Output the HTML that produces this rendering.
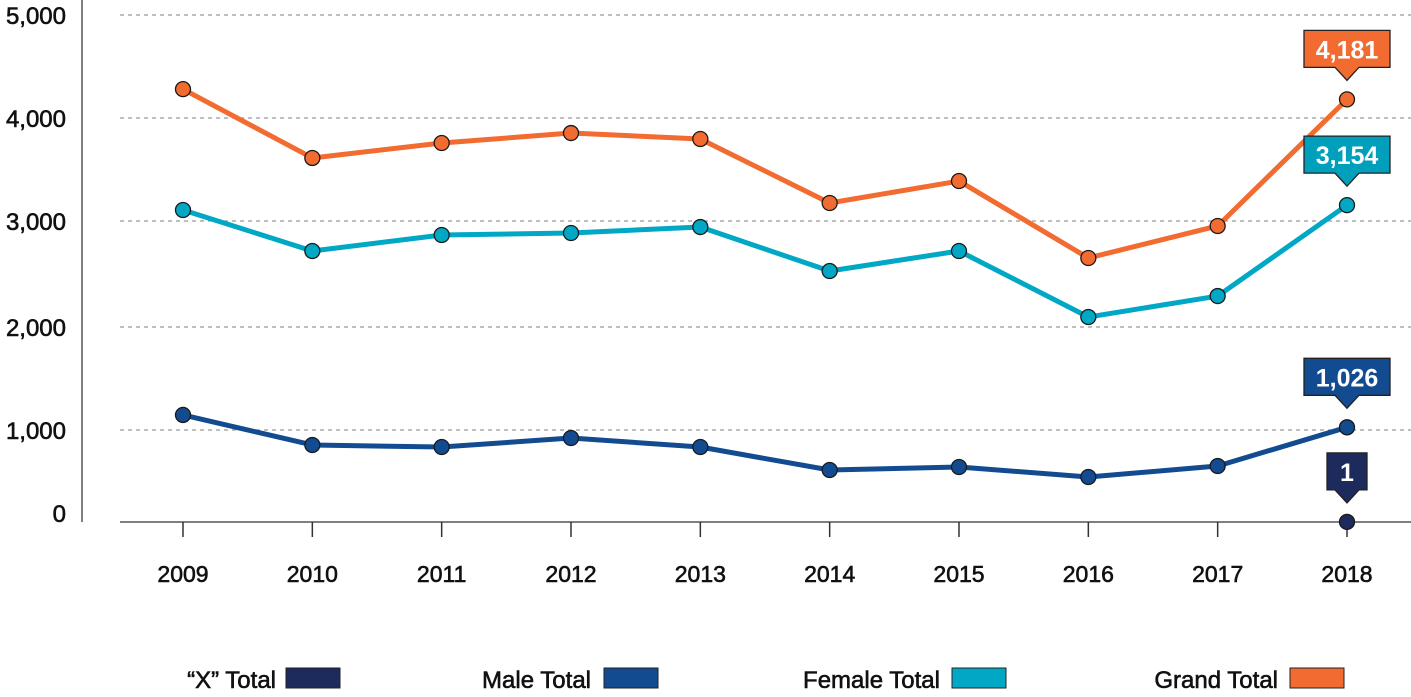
<!DOCTYPE html>
<html><head><meta charset="utf-8">
<style>
body{margin:0;background:#fff;width:1411px;height:697px;overflow:hidden;font-family:"Liberation Sans",sans-serif;}
svg{display:block}
</style></head>
<body>
<svg id="chart" width="1411" height="697" xmlns="http://www.w3.org/2000/svg"></svg>
<script>
const years = ["2009","2010","2011","2012","2013","2014","2015","2016","2017","2018"];
const grandTotal = [4280,3612,3757,3854,3796,3175,3388,2651,2953,4181];
const femaleTotal = [3107,2717,2868,2887,2943,2528,2717,2094,2292,3154];
const maleTotal = [1146,837,815,913,815,565,598,489,609,1026];
const xTotal = [null,null,null,null,null,null,null,null,null,1];
const yTicks = [0,1000,2000,3000,4000,5000];
const yTickLabels = ["0","1,000","2,000","3,000","4,000","5,000"];
const gridPx = [522,430,327,221,118,15];

const NS="http://www.w3.org/2000/svg";
const svg=document.getElementById('chart');
function el(tag,attrs,parent){const e=document.createElementNS(NS,tag);for(const k in attrs)e.setAttribute(k,attrs[k]);(parent||svg).appendChild(e);return e;}
function xScale(i){return 183+i*(1347-183)/(years.length-1);}
function yScale(v){
  for(let i=0;i<yTicks.length-1;i++){
    if(v<=yTicks[i+1]||i===yTicks.length-2){
      const t=(v-yTicks[i])/(yTicks[i+1]-yTicks[i]);
      return gridPx[i]+t*(gridPx[i+1]-gridPx[i]);
    }
  }
}
const txtStyle={fill:'#111',stroke:'#111','stroke-width':0.6};
yTicks.forEach((v,i)=>{
  if(v>0){
    const g=el('line',{x1:120,x2:1411,y1:yScale(v),y2:yScale(v),stroke:'#999','stroke-width':1.2,'stroke-dasharray':'4,4'});
    
    
  }
  const t=el('text',Object.assign({x:66,y:yScale(v)+(v===0?0:9),'text-anchor':'end','font-size':24},txtStyle));
  t.textContent=yTickLabels[i];
  
  
});
const ya=el('line',{x1:82,x2:82,y1:0,y2:522,stroke:'#555','stroke-width':1.5});


const xa=el('line',{x1:120,x2:1411,y1:522,y2:522,stroke:'#555','stroke-width':1.5});


years.forEach((y,i)=>{
  const tk=el('line',{x1:xScale(i),x2:xScale(i),y1:522,y2:537,stroke:'#333','stroke-width':1.5});
  
  
  const t=el('text',Object.assign({x:xScale(i),y:582,'text-anchor':'middle','font-size':23},txtStyle));
  t.textContent=y;
  
  
});
function series(vals,color,name){
  const pts=[];vals.forEach((v,i)=>{if(v!==null)pts.push([xScale(i),yScale(v)]);});
  if(pts.length>1){
    const p=el('polyline',{points:pts.map(p=>p.join(',')).join(' '),fill:'none',stroke:color,'stroke-width':5,'stroke-linejoin':'round'});
    
    
  }
  pts.forEach(p=>{
    const c=el('circle',{cx:p[0],cy:p[1],r:7.5,fill:color,stroke:'#1a1a1a','stroke-width':1.3});
    
    
  });
}
series(grandTotal,'#f26b30','grand-total');
series(femaleTotal,'#00a8c6','female-total');
series(maleTotal,'#134b91','male-total');
series(xTotal,'#1c2b5c','x-total');
function callout(i,v,label,color,w,name){
  const cx=xScale(i),tip=yScale(v)-19,bh=37,bt=tip-13-bh,l=cx-w/2,r=cx+w/2;
  const d=`M${l},${bt} H${r} V${bt+bh} H${cx+12} L${cx},${tip} L${cx-12},${bt+bh} H${l} Z`;
  const p=el('path',{d:d,fill:color,stroke:'#222','stroke-width':1.3});
  
  
  const t=el('text',{x:cx,y:bt+28,'text-anchor':'middle','font-size':25,'font-weight':'bold',fill:'#fff'});
  t.textContent=label;
  
  
}
callout(9,grandTotal[9],'4,181','#f26b30',86,'grand-total');
callout(9,femaleTotal[9],'3,154','#00a0bd',86,'female-total');
callout(9,maleTotal[9],'1,026','#134b91',86,'male-total');
callout(9,xTotal[9],'1','#1c2b5c',40,'x-total');
const legend=[["\u201CX\u201D Total",276,'#1c2b5c',286],["Male Total",591,'#134b91',604],["Female Total",940,'#00a8c6',952],["Grand Total",1278,'#f26b30',1290]];
legend.forEach(l=>{
  const t=el('text',Object.assign({x:l[1],y:688,'text-anchor':'end','font-size':24},txtStyle));
  t.textContent=l[0];
  
  
  const r=el('rect',{x:l[3],y:668,width:54,height:20,fill:l[2],stroke:'#222','stroke-width':1});
  
  
});
</script>
</body></html>
